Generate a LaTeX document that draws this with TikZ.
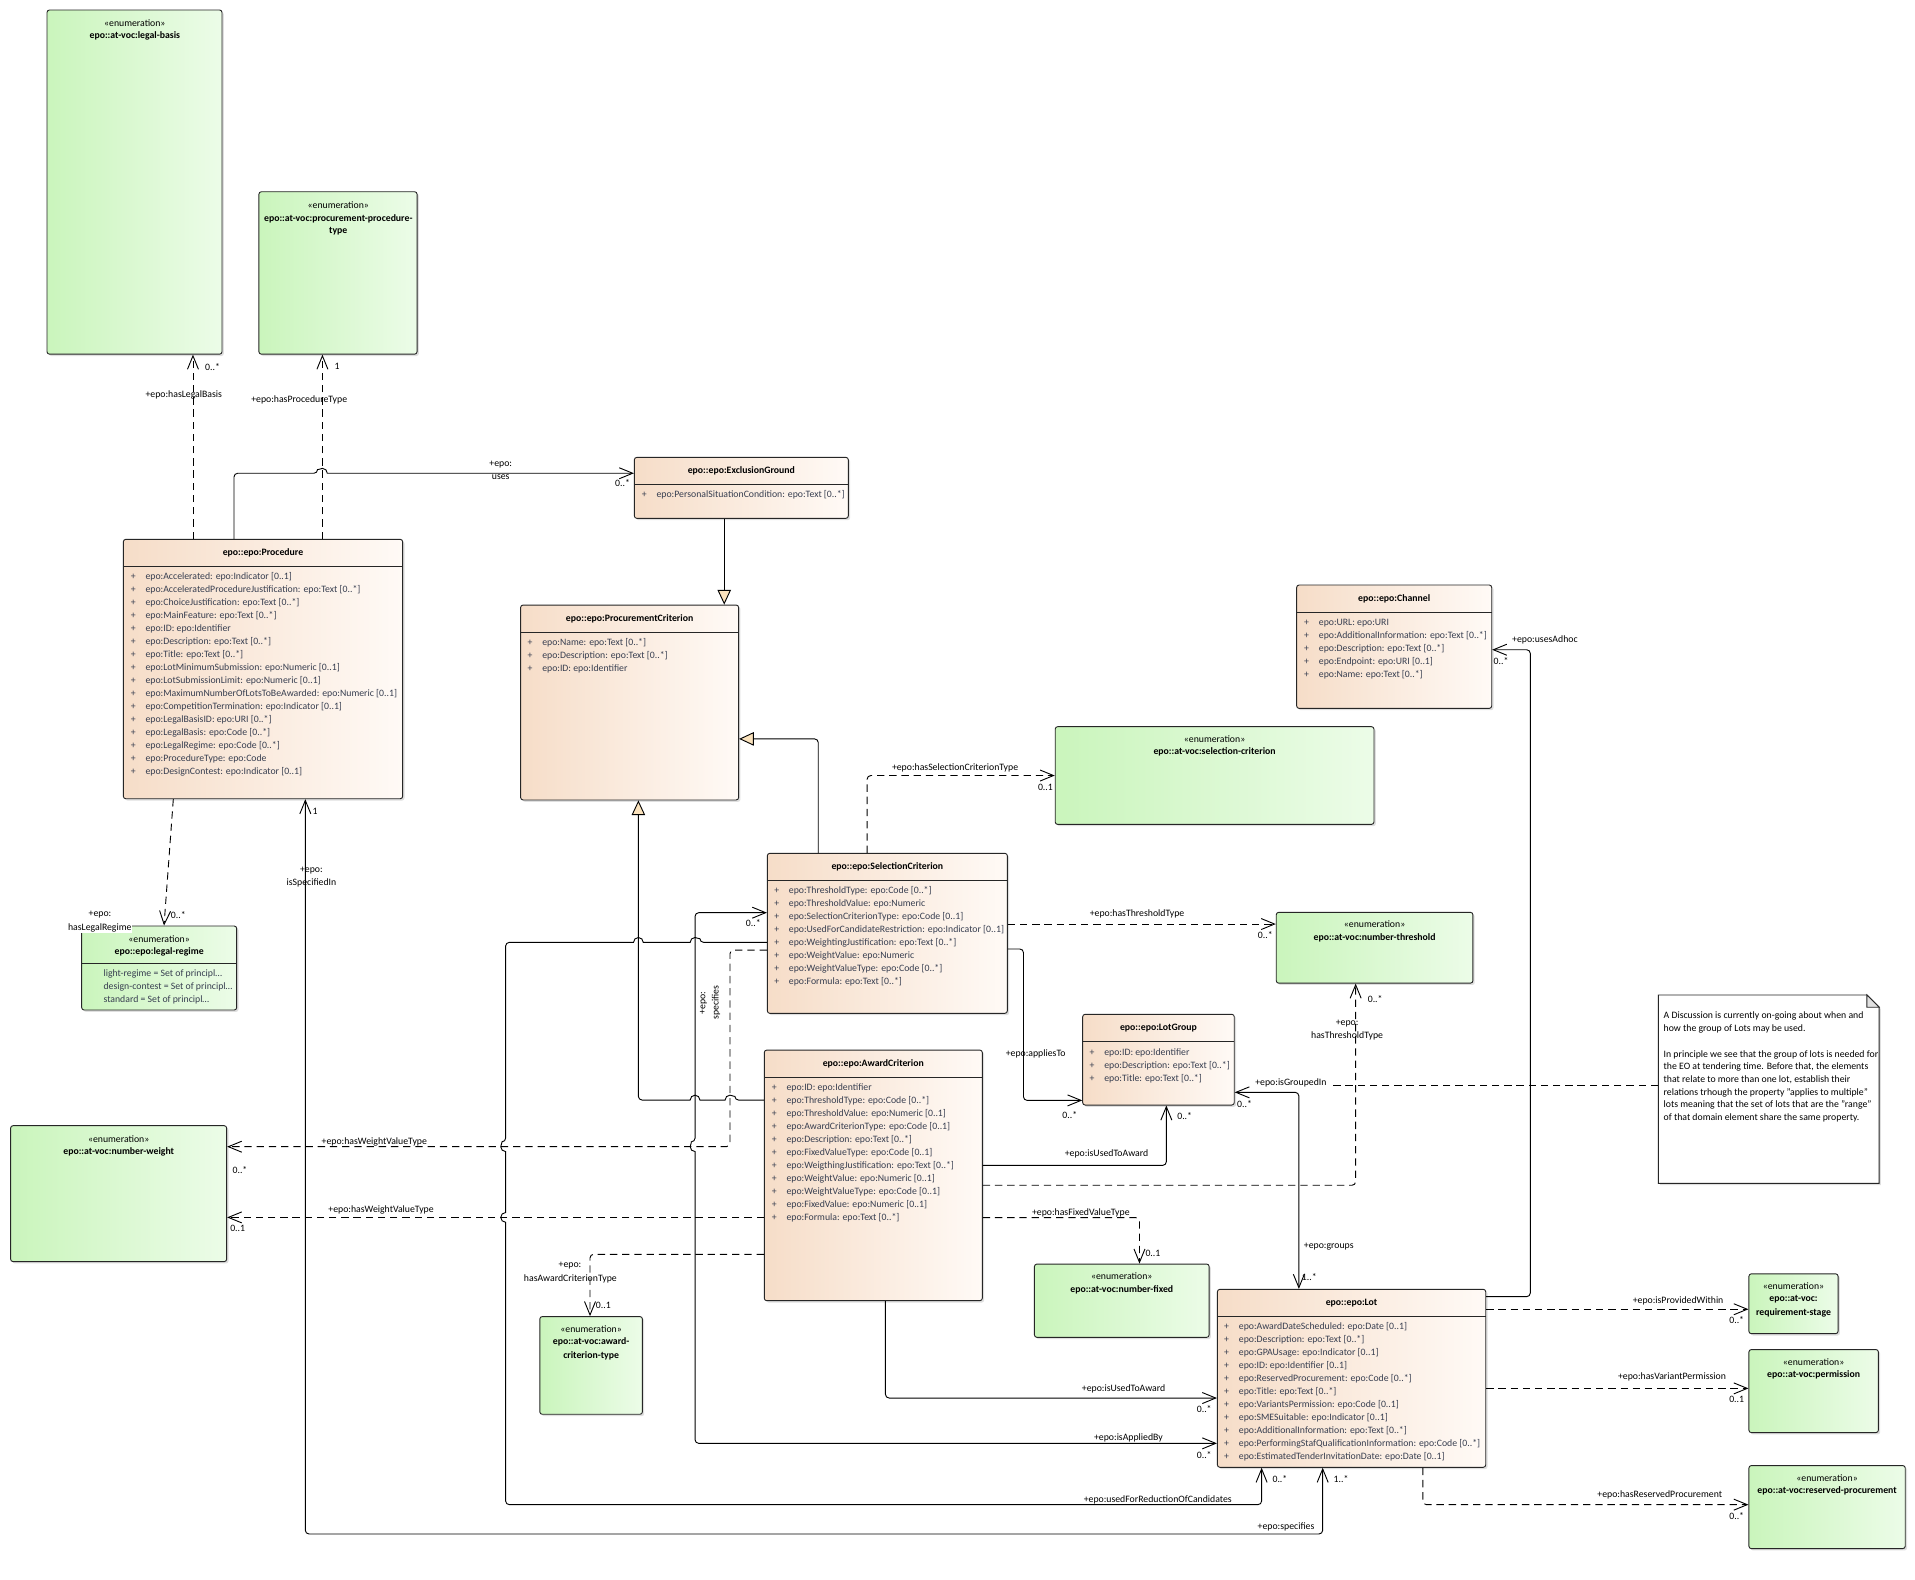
\documentclass[tikz,border=0pt]{standalone}
\usepackage{fontspec}
\setmainfont{Carlito}
\usetikzlibrary{arrows.meta,fit,shadows,calc}
\definecolor{clsL}{RGB}{246,221,200}
\definecolor{clsR}{RGB}{255,250,246}
\definecolor{enL}{RGB}{202,245,188}
\definecolor{enR}{RGB}{236,252,232}
\definecolor{attrc}{RGB}{55,62,80}
\definecolor{genfill}{RGB}{250,226,188}
\tikzset{
  umlbox/.style={draw=black!85, line width=0.75pt, rounded corners=2pt, inner sep=0pt,
    drop shadow={shadow xshift=1.5pt, shadow yshift=-1.5pt, opacity=0.25}},
  clsbox/.style={umlbox, left color=clsL, right color=clsR},
  enbox/.style={umlbox, left color=enL, right color=enR},
  sepline/.style={line width=0.7pt, draw=black!85},
  ttl/.style={font=\fontsize{8}{9.6}\selectfont\bfseries, inner sep=0pt},
  ster/.style={font=\fontsize{8}{9.6}\selectfont, inner sep=0pt},
  attr/.style={font=\fontsize{8}{9.6}\selectfont, text=attrc, inner sep=0pt},
  lbl/.style={font=\fontsize{8}{9.6}\selectfont, inner sep=0pt},
  conn/.style={line width=0.75pt, rounded corners=3pt},
  dep/.style={line width=0.75pt, rounded corners=3pt, dash pattern=on 6pt off 4pt},
  nav/.style={-{Straight Barb[length=11pt,width=9pt]}},
  bi/.style={{Straight Barb[length=11pt,width=9pt]}-{Straight Barb[length=11pt,width=9pt]}},
  gen/.style={-{Triangle[length=12pt,width=11pt,fill=genfill]}},
}
\newcommand{\umlcls}[7]{%
  \node[clsbox, fit={(#2,#3) (#4,#5)}] (#1) {};
  \draw[sepline] (#2,#6) -- (#4,#6);
  \node[ttl] (#1-t) at ({(#2+#4)/2},{(#3+#6)/2}) {#7};
}
\newcommand{\umlattrs}[4]{%
  \foreach \attrtxt [count=\i] in {#4} {
    \node[attr, anchor=base west] (#1-a\i) at (#2,{#3+(\i-1)*10.64}) {\makebox[12pt][l]{+}\attrtxt};
  }
}
\newcommand{\umlenum}[5]{%
  \node[enbox, fit={(#2,#3) (#4,#5)}] (#1) {};
}
\begin{document}
\begin{tikzpicture}[x=1pt,y=-1pt]
\fill[white] (0,0) rectangle (1568,1293);
\useasboundingbox (0,0) rectangle (1568,1293);

% ---------- enumerations ----------
\umlenum{legalbasis}{38.5}{8.2}{181.8}{290}
\node[ster] (legalbasis-s) at (110.4,19) {«enumeration»};
\node[ttl] (legalbasis-t) at (110.4,29.2) {epo::at-voc:legal-basis};

\umlenum{proctype}{212}{157}{341.5}{290}
\node[ster] (proctype-s) at (277,167.9) {«enumeration»};
\node[ttl] (proctype-t) at (277,178.8) {epo::at-voc:procurement-procedure-};
\node[ttl] (proctype-t2) at (277,189.1) {type};

\umlenum{legalregime}{66.9}{758.2}{193.8}{827}
\node[ster] (legalregime-s) at (130.3,768.9) {«enumeration»};
\node[ttl] (legalregime-t) at (130.3,779.8) {epo::epo:legal-regime};
\draw[sepline] (66.9,788.8) -- (193.8,788.8);
\node[attr, anchor=base west] (legalregime-v1) at (84.6,799.3) {light-regime = Set of principl…};
\node[attr, anchor=base west] (legalregime-v2) at (84.6,810.2) {design-contest = Set of principl…};
\node[attr, anchor=base west] (legalregime-v3) at (84.6,821.1) {standard = Set of principl…};

\umlenum{numweight}{8.7}{921.7}{185.6}{1033}
\node[ster] (numweight-s) at (97.2,932.6) {«enumeration»};
\node[ttl] (numweight-t) at (97.2,943.5) {epo::at-voc:number-weight};

\umlenum{selcrittype}{864}{595}{1125}{675}
\node[ster] (selcrittype-s) at (994.5,605) {«enumeration»};
\node[ttl] (selcrittype-t) at (994.5,615.5) {epo::at-voc:selection-criterion};

\umlenum{numthreshold}{1045}{747}{1206}{805}
\node[ster] (numthreshold-s) at (1125.5,757) {«enumeration»};
\node[ttl] (numthreshold-t) at (1125.5,768) {epo::at-voc:number-threshold};

\umlenum{numfixed}{847}{1035}{990}{1095}
\node[ster] (numfixed-s) at (918.5,1045) {«enumeration»};
\node[ttl] (numfixed-t) at (918.5,1056) {epo::at-voc:number-fixed};

\umlenum{awardtype}{442}{1078}{526}{1158}
\node[ster] (awardtype-s) at (484,1088) {«enumeration»};
\node[ttl] (awardtype-t) at (484,1099) {epo::at-voc:award-};
\node[ttl] (awardtype-t2) at (484,1110) {criterion-type};

\umlenum{reqstage}{1432}{1043}{1505}{1092}
\node[ster] (reqstage-s) at (1468.5,1053) {«enumeration»};
\node[ttl] (reqstage-t) at (1468.5,1064) {epo::at-voc:};
\node[ttl] (reqstage-t2) at (1468.5,1075) {requirement-stage};

\umlenum{permission}{1432}{1105}{1538}{1173}
\node[ster] (permission-s) at (1485,1115) {«enumeration»};
\node[ttl] (permission-t) at (1485,1125.5) {epo::at-voc:permission};

\umlenum{reserved}{1432}{1200}{1560}{1268}
\node[ster] (reserved-s) at (1496,1210) {«enumeration»};
\node[ttl] (reserved-t) at (1496,1220.5) {epo::at-voc:reserved-procurement};

% ---------- classes ----------
\umlcls{proc}{101}{441.6}{329.7}{654}{463.5}{epo::epo:Procedure}
\umlattrs{proc}{107}{474.5}{epo:Accelerated: epo:Indicator [0..1],epo:AcceleratedProcedureJustification: epo:Text [0..*],epo:ChoiceJustification: epo:Text [0..*],epo:MainFeature: epo:Text [0..*],epo:ID: epo:Identifier,epo:Description: epo:Text [0..*],epo:Title: epo:Text [0..*],epo:LotMinimumSubmission: epo:Numeric [0..1],epo:LotSubmissionLimit: epo:Numeric [0..1],epo:MaximumNumberOfLotsToBeAwarded: epo:Numeric [0..1],epo:CompetitionTermination: epo:Indicator [0..1],epo:LegalBasisID: epo:URI [0..*],epo:LegalBasis: epo:Code [0..*],epo:LegalRegime: epo:Code [0..*],epo:ProcedureType: epo:Code,epo:DesignContest: epo:Indicator [0..1]}

\umlcls{exclusion}{519.4}{374.5}{694.6}{424.4}{396.3}{epo::epo:ExclusionGround}
\umlattrs{exclusion}{525.4}{407.6}{epo:PersonalSituationCondition: epo:Text [0..*]}

\umlcls{proccrit}{426.3}{495.4}{604.8}{655}{517.7}{epo::epo:ProcurementCriterion}
\umlattrs{proccrit}{431.8}{528.5}{epo:Name: epo:Text [0..*],epo:Description: epo:Text [0..*],epo:ID: epo:Identifier}

\umlcls{selcrit}{628.3}{698.7}{824.8}{829.7}{721.1}{epo::epo:SelectionCriterion}
\umlattrs{selcrit}{633.8}{731.9}{epo:ThresholdType: epo:Code [0..*],epo:ThresholdValue: epo:Numeric,epo:SelectionCriterionType: epo:Code [0..1],epo:UsedForCandidateRestriction: epo:Indicator [0..1],epo:WeightingJustification: epo:Text [0..*],epo:WeightValue: epo:Numeric,epo:WeightValueType: epo:Code [0..*],epo:Formula: epo:Text [0..*]}

\umlcls{award}{625.8}{859.8}{804.3}{1065}{882.1}{epo::epo:AwardCriterion}
\umlattrs{award}{631.8}{892.9}{epo:ID: epo:Identifier,epo:ThresholdType: epo:Code [0..*],epo:ThresholdValue: epo:Numeric [0..1],epo:AwardCriterionType: epo:Code [0..1],epo:Description: epo:Text [0..*],epo:FixedValueType: epo:Code [0..1],epo:WeigthingJustification: epo:Text [0..*],epo:WeightValue: epo:Numeric [0..1],epo:WeightValueType: epo:Code [0..1],epo:FixedValue: epo:Numeric [0..1],epo:Formula: epo:Text [0..*]}

\umlcls{lotgroup}{886.5}{830.5}{1010.6}{904.8}{853}{epo::epo:LotGroup}
\umlattrs{lotgroup}{892}{864}{epo:ID: epo:Identifier,epo:Description: epo:Text [0..*],epo:Title: epo:Text [0..*]}

\umlcls{lot}{996.8}{1055.7}{1216.5}{1201.4}{1077.5}{epo::epo:Lot}
\umlattrs{lot}{1002.2}{1088.6}{epo:AwardDateScheduled: epo:Date [0..1],epo:Description: epo:Text [0..*],epo:GPAUsage: epo:Indicator [0..1],epo:ID: epo:Identifier [0..1],epo:ReservedProcurement: epo:Code [0..*],epo:Title: epo:Text [0..*],epo:VariantsPermission: epo:Code [0..1],epo:SMESuitable: epo:Indicator [0..1],epo:AdditionalInformation: epo:Text [0..*],epo:PerformingStafQualificationInformation: epo:Code [0..*],epo:EstimatedTenderInvitationDate: epo:Date [0..1]}

\umlcls{channel}{1061.7}{479}{1221.4}{580}{501.4}{epo::epo:Channel}
\umlattrs{channel}{1067.7}{512.1}{epo:URL: epo:URI,epo:AdditionalInformation: epo:Text [0..*],epo:Description: epo:Text [0..*],epo:Endpoint: epo:URI [0..1],epo:Name: epo:Text [0..*]}

% ---------- note ----------
\filldraw[fill=white, draw=black!85, line width=0.75pt, drop shadow={shadow xshift=1.5pt, shadow yshift=-1.5pt, opacity=0.25}]
  (1357.8,814.7) -- (1528.6,814.7) -- (1538.6,824.7) -- (1538.6,968.9) -- (1357.8,968.9) -- cycle;
\filldraw[fill=black!12, draw=black!85, line width=0.75pt] (1528.6,814.7) -- (1528.6,824.7) -- (1538.6,824.7) -- cycle;
\node[inner sep=0pt, fit={(1357.8,814.7) (1538.6,968.9)}] (note) {};
\foreach \ntxt [count=\i] in {{A Discussion is currently on-going about when and},{how the group of Lots may be used.}}
  \node[lbl, anchor=base west] (note-l\i) at (1362,{834.3+(\i-1)*10.4}) {\ntxt};
\foreach \ntxt [count=\i] in {{In principle we see that the group of lots is needed for},{the EO at tendering time. Before that, the elements},{that relate to more than one lot, establish their},{relations trhough the property "applies to multiple"},{lots meaning that the set of lots that are the "range"},{of that domain element share the same property.}}
  \node[lbl, anchor=base west] (note-m\i) at (1362,{865.5+(\i-1)*10.4}) {\ntxt};
\coordinate (notelink) at (1090,889);
\draw[dep] (note.west |- 0,889) -- (notelink);

% ---------- connectors ----------
\draw[dep,nav] (158,0 |- proc.north) -- (158,0 |- legalbasis.south);
\draw[dep,nav] (264,0 |- proc.north) -- (264,0 |- proctype.south);
\draw[conn,nav] (191.6,0 |- proc.north) -- (191.6,387.5) -- (260,387.5) [sharp corners] arc[start angle=180,end angle=0,radius=4pt] [rounded corners=3pt] -- (exclusion.west |- 0,387.5);
\draw[dep,nav] (141.9,0 |- proc.south) -- (134.3,0 |- legalregime.north);
\draw[conn,bi] (250,0 |- proc.south) -- (250,1256) -- (1083,1256) -- (1083,0 |- lot.south);
% generalizations
\draw[conn,gen] (593,0 |- exclusion.south) -- (593,0 |- proccrit.north);
\draw[conn,gen] (670,0 |- selcrit.north) -- (670,605) -- (proccrit.east |- 0,605);
\draw[conn,gen] (award.west |- 0,900.7) -- (601.7,900.7) [sharp corners] arc[start angle=0,end angle=180,radius=4pt] -- (573.1,900.7) arc[start angle=0,end angle=180,radius=4pt] [rounded corners=3pt] -- (522.7,900.7) -- (522.7,0 |- proccrit.south);
% selection criterion type
\draw[dep,nav] (710,0 |- selcrit.north) -- (710,635) -- (selcrittype.west |- 0,635);
\draw[dep,nav] (selcrit.east |- 0,756.6) -- (numthreshold.west |- 0,756.6);
% appliesTo
\draw[conn,nav] (selcrit.east |- 0,777) -- (838,777) -- (838,901) -- (lotgroup.west |- 0,901);
% specifies / isAppliedBy
\draw[conn,bi] (selcrit.west |- 0,747.3) -- (569.1,747.3) -- (569.1,934.9) [sharp corners] arc[start angle=90,end angle=270,radius=4pt] [rounded corners=3pt] -- (569.1,1181.8) -- (lot.west |- 0,1181.8);
% usedForReductionOfCandidates
\draw[conn,nav] (selcrit.west |- 0,771.6) -- (573.1,771.6) [sharp corners] arc[start angle=0,end angle=180,radius=4pt] -- (526.7,771.6) arc[start angle=0,end angle=180,radius=4pt] [rounded corners=3pt] -- (414,771.6) -- (414,934.9) [sharp corners] arc[start angle=90,end angle=270,radius=4pt] -- (414,992.8) arc[start angle=90,end angle=270,radius=4pt] [rounded corners=3pt] -- (414,1232) -- (1033,1232) -- (1033,0 |- lot.south);
% hasWeightValueType (selection)
\draw[dep,nav] (selcrit.west |- 0,777.9) -- (597.7,777.9) -- (597.7,938.9) -- (numweight.east |- 0,938.9);
% hasWeightValueType (award)
\draw[dep,nav] (award.west |- 0,996.8) -- (numweight.east |- 0,996.8);
% hasAwardCriterionType
\draw[dep,nav] (award.west |- 0,1027) -- (483.1,1027) -- (483.1,0 |- awardtype.north);
% isUsedToAward (lot group)
\draw[conn,nav] (award.east |- 0,954.2) -- (955,954.2) -- (955,0 |- lotgroup.south);
% hasThresholdType (award)
\draw[dep,nav] (award.east |- 0,970.5) -- (1110,970.5) -- (1110,0 |- numthreshold.south);
% hasFixedValueType
\draw[dep,nav] (award.east |- 0,997) -- (933,997) -- (933,0 |- numfixed.north);
% isUsedToAward (lot)
\draw[conn,nav] (725,0 |- award.south) -- (725,1144.7) -- (lot.west |- 0,1144.7);
% isGroupedIn / groups
\draw[conn,bi] (lotgroup.east |- 0,894.4) -- (1063.5,894.4) -- (1063.5,0 |- lot.north);
% usesAdhoc
\draw[conn,nav] (lot.east |- 0,1061.7) -- (1253,1061.7) -- (1253,532) -- (channel.east |- 0,532);
\draw[dep,nav] (lot.east |- 0,1072) -- (reqstage.west |- 0,1072);
\draw[dep,nav] (lot.east |- 0,1136.8) -- (permission.west |- 0,1136.8);
\draw[dep,nav] (1165,0 |- lot.south) -- (1165,1232) -- (reserved.west |- 0,1232);

% ---------- labels ----------
\node[lbl] (L1) at (150.5,323.4) {+epo:hasLegalBasis};
\node[lbl] (L2) at (174,300.2) {0..*};
\node[lbl] (L3) at (245,327.5) {+epo:hasProcedureType};
\node[lbl] (L4) at (276,300.2) {1};
\node[lbl] (L5) at (410,380) {+epo:};
\node[lbl] (L6) at (410,390.3) {uses};
\node[lbl] (L7) at (509.7,395.8) {0..*};
\node[lbl] (L8) at (81.9,749.2) {+epo:};
\node[lbl, fill=white, inner sep=0.5pt] (L9) at (81.7,759.6) {hasLegalRegime};
\node[lbl] (L10) at (146,749) {0..*};
\node[lbl] (L11) at (258,664) {1};
\node[lbl] (L12) at (255,713) {+epo:};
\node[lbl] (L13) at (255,723) {isSpecifiedIn};
\node[lbl] (L14) at (1053,1250) {+epo:specifies};
\node[lbl] (L15) at (1098,1211) {1..*};
\node[lbl] (L16) at (782,629) {+epo:hasSelectionCriterionType};
\node[lbl] (L17) at (856,645) {0..1};
\node[lbl] (L18) at (931,748) {+epo:hasThresholdType};
\node[lbl] (L19) at (1036,766) {0..*};
\node[lbl] (L20) at (848,863) {+epo:appliesTo};
\node[lbl] (L21) at (876,913) {0..*};
\node[lbl] (L22) at (616.8,756) {0..*};
\node[lbl, rotate=90] (L23) at (575.9,821) {+epo:};
\node[lbl, rotate=90] (L24) at (586.3,821) {specifies};
\node[lbl] (L25) at (306.5,935.3) {+epo:hasWeightValueType};
\node[lbl] (L26) at (196.5,958) {0..*};
\node[lbl] (L27) at (312,990.7) {+epo:hasWeightValueType};
\node[lbl] (L28) at (194.6,1006) {0..1};
\node[lbl] (L29) at (906,945) {+epo:isUsedToAward};
\node[lbl] (L30) at (970,914) {0..*};
\node[lbl] (L31) at (1103,838) {+epo:};
\node[lbl] (L32) at (1103,848) {hasThresholdType};
\node[lbl] (L33) at (1126,818) {0..*};
\node[lbl] (L34) at (885,993) {+epo:hasFixedValueType};
\node[lbl] (L35) at (944,1026) {0..1};
\node[lbl] (L36) at (466.7,1036.6) {+epo:};
\node[lbl] (L37) at (467,1047) {hasAwardCriterionType};
\node[lbl] (L38) at (494,1069) {0..1};
\node[lbl] (L39) at (920,1137) {+epo:isUsedToAward};
\node[lbl] (L40) at (986,1154) {0..*};
\node[lbl] (L41) at (924,1177) {+epo:isAppliedBy};
\node[lbl] (L42) at (986,1191) {0..*};
\node[lbl] (L43) at (948,1228) {+epo:usedForReductionOfCandidates};
\node[lbl] (L44) at (1048,1211) {0..*};
\node[lbl] (L45) at (1057,887) {+epo:isGroupedIn};
\node[lbl] (L46) at (1019,904) {0..*};
\node[lbl] (L47) at (1088,1021) {+epo:groups};
\node[lbl] (L48) at (1072,1046) {1..*};
\node[lbl] (L49) at (1265,524) {+epo:usesAdhoc};
\node[lbl] (L50) at (1229,541) {0..*};
\node[lbl] (L51) at (1374,1065) {+epo:isProvidedWithin};
\node[lbl] (L52) at (1422,1081) {0..*};
\node[lbl] (L53) at (1369,1127) {+epo:hasVariantPermission};
\node[lbl] (L54) at (1422,1146) {0..1};
\node[lbl] (L55) at (1359,1224) {+epo:hasReservedProcurement};
\node[lbl] (L56) at (1422,1241) {0..*};
\end{tikzpicture}
\end{document}
